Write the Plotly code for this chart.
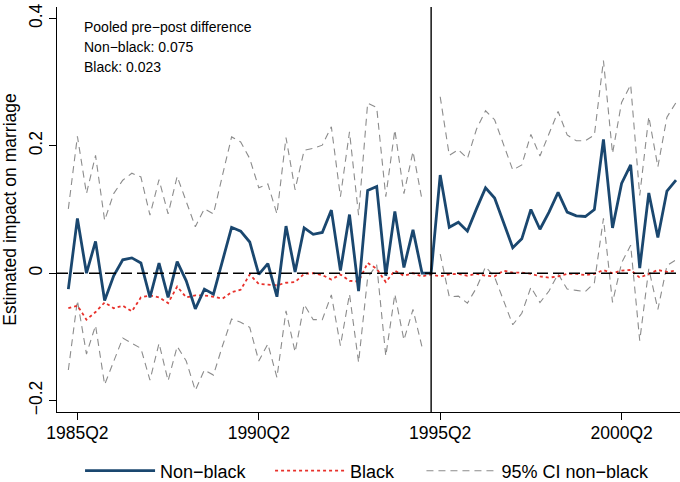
import plotly.graph_objects as go

# ---------------- data ----------------
quarters = [f"{y}Q{q}" for y in range(1985, 2002) for q in range(1, 5)]  # 1985Q1 .. 2001Q4

non_black = [
    -0.025, 0.086, 0.000, 0.050, -0.043, -0.004, 0.021, 0.024, 0.016, -0.038,
    0.016, -0.038, 0.018, -0.012, -0.056, -0.025, -0.033, 0.021, 0.072, 0.066,
    0.049, -0.002, 0.015, -0.037, 0.074, 0.002, 0.071, 0.061, 0.064, 0.099,
    0.004, 0.092, -0.028, 0.130, 0.136, -0.004, 0.097, 0.009, 0.068, 0.000,
    0.000, 0.154, 0.072, 0.080, 0.066, 0.101, 0.134, 0.118, 0.080, 0.040,
    0.054, 0.100, 0.069, 0.096, 0.127, 0.096, 0.090, 0.089, 0.100, 0.210,
    0.071, 0.141, 0.170, 0.008, 0.126, 0.056, 0.129, 0.146,
]

black = [
    -0.055, -0.051, -0.073, -0.061, -0.046, -0.055, -0.051, -0.060, -0.038, -0.035,
    -0.038, -0.047, -0.021, -0.038, -0.035, -0.035, -0.037, -0.040, -0.030, -0.026,
    -0.002, -0.017, -0.018, -0.019, -0.015, -0.014, -0.001, 0.000, -0.003, -0.010,
    -0.002, -0.012, -0.013, 0.016, 0.007, -0.014, 0.004, -0.004, 0.000, -0.005,
    -0.002, -0.005, -0.002, -0.001, -0.004, -0.001, -0.004, -0.005, 0.004, 0.001,
    0.001, -0.001, -0.005, -0.007, -0.005, -0.001, -0.001, -0.003, -0.001, 0.005,
    0.000, 0.004, 0.005, -0.007, -0.001, 0.005, 0.002, 0.004,
]

ci_upper = [
    0.101, 0.215, 0.125, 0.185, 0.083, 0.125, 0.146, 0.157, 0.151, 0.091,
    0.147, 0.093, 0.152, 0.114, 0.073, 0.101, 0.093, 0.154, 0.214, 0.206,
    0.180, 0.134, 0.140, 0.093, 0.213, 0.131, 0.193, 0.196, 0.201, 0.230,
    0.120, 0.222, 0.091, 0.267, 0.260, 0.120, 0.225, 0.125, 0.191, 0.115,
    None, 0.277, 0.185, 0.194, 0.180, 0.226, 0.255, 0.241, 0.203, 0.162,
    0.170, 0.218, 0.184, 0.218, 0.254, 0.217, 0.208, 0.208, 0.217, 0.334,
    0.188, 0.268, 0.296, 0.122, 0.246, 0.167, 0.245, 0.268,
]

ci_lower = [
    -0.152, -0.043, -0.127, -0.082, -0.175, -0.138, -0.102, -0.110, -0.118, -0.168,
    -0.110, -0.169, -0.115, -0.138, -0.184, -0.152, -0.160, -0.114, -0.072, -0.077,
    -0.085, -0.138, -0.111, -0.164, -0.059, -0.124, -0.049, -0.073, -0.073, -0.034,
    -0.114, -0.033, -0.140, -0.007, 0.013, -0.130, -0.033, -0.105, -0.057, -0.116,
    None, 0.030, -0.037, -0.036, -0.047, -0.023, 0.010, -0.006, -0.043, -0.081,
    -0.063, -0.022, -0.046, -0.028, -0.001, -0.025, -0.027, -0.029, -0.015, 0.086,
    -0.046, 0.016, 0.044, -0.106, 0.007, -0.057, 0.012, 0.021,
]

tick_labels = ["1985Q2", "1990Q2", "1995Q2", "2000Q2"]
y_ticks = [-0.2, 0, 0.2, 0.4]
reform_quarter = "1995Q1"
note_lines = ["Pooled pre\u2212post difference", "Non\u2212black: 0.075", "Black: 0.023"]


def qpos(label):
    return int(label[:4]) + (int(label[5]) - 1) / 4.0


x = [qpos(q) for q in quarters]

FONT = "Liberation Sans, Arial, Helvetica, sans-serif"
NAVY = "#1a476f"
RED = "#e8312b"
GRAY = "#8c8c8c"

fig = go.Figure()

fig.add_trace(go.Scatter(
    x=x, y=ci_upper, mode="lines", name="95% CI non\u2212black",
    line=dict(color=GRAY, width=1.1, dash="7px,5px"),
    connectgaps=False, legendgroup="ci", legend="legend3", hoverinfo="skip",
))
fig.add_trace(go.Scatter(
    x=x, y=ci_lower, mode="lines", name="95% CI non\u2212black",
    line=dict(color=GRAY, width=1.1, dash="7px,5px"),
    connectgaps=False, legendgroup="ci", legend="legend3", showlegend=False,
    hoverinfo="skip",
))
fig.add_trace(go.Scatter(
    x=x, y=black, mode="lines", name="Black",
    line=dict(color=RED, width=1.8, dash="3px,3px"), legend="legend2",
))
fig.add_trace(go.Scatter(
    x=x, y=non_black, mode="lines", name="Non\u2212black",
    line=dict(color=NAVY, width=2.8), legend="legend",
))

# zero reference line and reform line
fig.add_hline(y=0, line=dict(color="black", width=1.6, dash="11px,5px"))
fig.add_vline(x=qpos(reform_quarter), line=dict(color="black", width=1.4))

# note box
for k, txt in enumerate(note_lines):
    fig.add_annotation(
        xref="paper", yref="paper", x=0.040, y=0.951 - k * 0.0494,
        xanchor="left", yanchor="middle", text=txt, showarrow=False,
        font=dict(family=FONT, size=14, color="black"),
    )

legend_style = dict(
    orientation="h", xanchor="left", yref="container", y=0.0228, yanchor="middle",
    itemwidth=70, font=dict(family=FONT, size=18, color="black"),
    bgcolor="rgba(0,0,0,0)",
)

fig.update_layout(
    width=680, height=482,
    margin=dict(l=57, r=0, t=7, b=70, autoexpand=False),
    paper_bgcolor="white", plot_bgcolor="white",
    font=dict(family=FONT, size=17.5, color="black"),
    showlegend=True,
    legend=dict(x=0.0370, **legend_style),
    legend2=dict(x=0.3420, **legend_style),
    legend3=dict(x=0.5850, **legend_style),
)

fig.update_xaxes(
    range=[1984.6875, 2001.86],
    tickmode="array", tickvals=[qpos(t) for t in tick_labels], ticktext=tick_labels,
    ticks="outside", ticklen=7, tickwidth=1, tickcolor="black",
    showline=True, linecolor="black", linewidth=1.2,
    showgrid=False, zeroline=False, ticklabelstandoff=-2,
    tickfont=dict(family=FONT, size=17.5, color="black"),
)
fig.update_yaxes(
    range=[-0.218, 0.418],
    tickmode="array", tickvals=y_ticks,
    ticks="outside", ticklen=7, tickwidth=1, tickcolor="black",
    showline=True, linecolor="black", linewidth=1.2,
    showgrid=False, zeroline=False, tickangle=-90,
    tickfont=dict(family=FONT, size=17.5, color="black"),
    title=dict(text="Estimated impact on marriage", standoff=8,
               font=dict(family=FONT, size=17.5, color="black")),
)

fig.write_html("out.html")
